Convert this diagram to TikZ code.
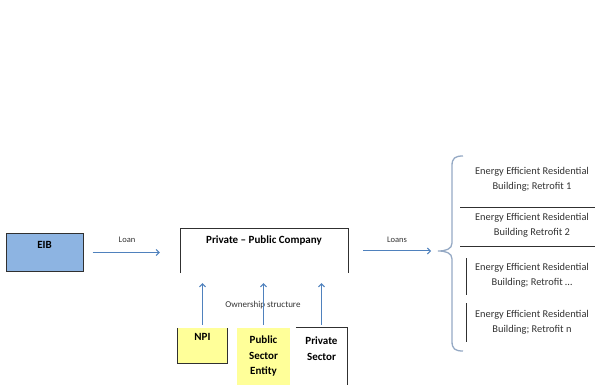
\documentclass[tikz,border=0pt]{standalone}
\usepackage{fontspec}
\setmainfont{Carlito}
\usetikzlibrary{arrows.meta}
\definecolor{eibblue}{HTML}{8DB4E2}
\definecolor{arrowblue}{HTML}{4F81BD}
\definecolor{npiyellow}{HTML}{FFFF99}
\definecolor{bracegray}{HTML}{95A9C4}
\definecolor{edgegray}{HTML}{303030}
\definecolor{txtgray}{HTML}{333333}
\begin{document}
\begin{tikzpicture}[x=1pt,y=-1pt,
  boxtitle/.style={font=\fontsize{11}{15.5}\selectfont\bfseries, inner sep=0pt, align=center},
  smalllabel/.style={font=\fontsize{8.5}{10}\selectfont, text=txtgray, inner sep=0pt},
  retro/.style={font=\fontsize{10.4}{15}\selectfont, text=txtgray, inner sep=0pt, align=center},
  plain/.style={inner sep=0pt},
  arr/.style={draw=arrowblue, line width=1pt, -{Straight Barb[length=3pt,width=6pt]}},
  edge/.style={draw=edgegray, line width=0.9pt},
  sep/.style={draw=edgegray, line width=1pt}
]
\useasboundingbox (0,0) rectangle (595,385);

% EIB
\node[plain, draw=edgegray, line width=1pt, fill=eibblue, minimum width=77pt, minimum height=37pt] (eib) at (44.5,252.5) {};
\node[boxtitle] (eibt) at (44.5,245) {EIB};

% Private - Public Company
\node[plain, minimum width=167pt, minimum height=44pt] (ppc) at (264.5,251) {};
\draw[edge] (ppc.south west) |- (ppc.north) -| (ppc.south east);
\node[boxtitle] (ppct) at (264,241) {Private – Public Company};

% NPI
\node[plain, fill=npiyellow, minimum width=49pt, minimum height=35pt] (npi) at (202.5,345.5) {};
\draw[edge] (npi.north west) |- (npi.south) -| (npi.north east);
\node[boxtitle] (npit) at (202.5,337) {NPI};

% Public Sector Entity
\node[plain, fill=npiyellow, minimum width=53pt, minimum height=57pt] (pub) at (263.5,356.5) {};
\node[boxtitle] (pubt) at (263.5,356.5) {Public\\Sector\\Entity};

% Private Sector
\node[plain, minimum width=51pt, minimum height=57pt] (priv) at (321.5,356.5) {};
\draw[edge] (priv.north west) -- (priv.north east) -- (priv.south east);
\node[boxtitle] (privt) at (321.5,348.5) {Private\\Sector};

% Ownership structure
\node[smalllabel, font=\fontsize{9}{11}\selectfont] (own) at (263,305) {Ownership structure};

% arrows up
\draw[arr, shorten <=3pt, shorten >=10pt] (npi.north) -- (npi.north |- ppc.south);
\draw[arr, shorten <=3pt, shorten >=10pt] (pub.north) -- (pub.north |- ppc.south);
\draw[arr, shorten <=3pt, shorten >=10pt] (priv.north) -- (priv.north |- ppc.south);

% Loan
\draw[arr, shorten <=9pt, shorten >=21pt] (eib.east) -- (eib.east -| ppc.west);
\node[smalllabel] (loanl) at (127,240) {Loan};

% Loans
\coordinate (bt) at (438,251);
\draw[arr, shorten <=15pt, shorten >=7pt] (ppc.east) -- (bt);
\node[smalllabel] (loansl) at (397,240) {Loans};

% brace
\draw[bracegray, line width=1.3pt] (463,156) .. controls (455,156) and (452,158) .. (452,166) -- (452,243) .. controls (452,249) and (446,251) .. (bt) .. controls (446,251) and (452,253) .. (452,259) -- (452,341) .. controls (452,349) and (455,351) .. (463,351);

% retrofit entries
\node[retro] (r1) at (532,179.5) {Energy Efficient Residential\\Building; Retrofit 1};
\node[retro] (r2) at (532,225.5) {Energy Efficient Residential\\Building Retrofit 2};
\node[retro] (r3) at (532,275.5) {Energy Efficient Residential\\Building; Retrofit …};
\node[retro] (r4) at (532,322.5) {Energy Efficient Residential\\Building; Retrofit n};

\draw[sep] (460,208) -- (595,208);
\draw[sep] (460,247) -- (595,247);
\draw[sep] (466,258) -- (466,295);
\draw[sep] (466,303) -- (466,342);
\end{tikzpicture}
\end{document}
